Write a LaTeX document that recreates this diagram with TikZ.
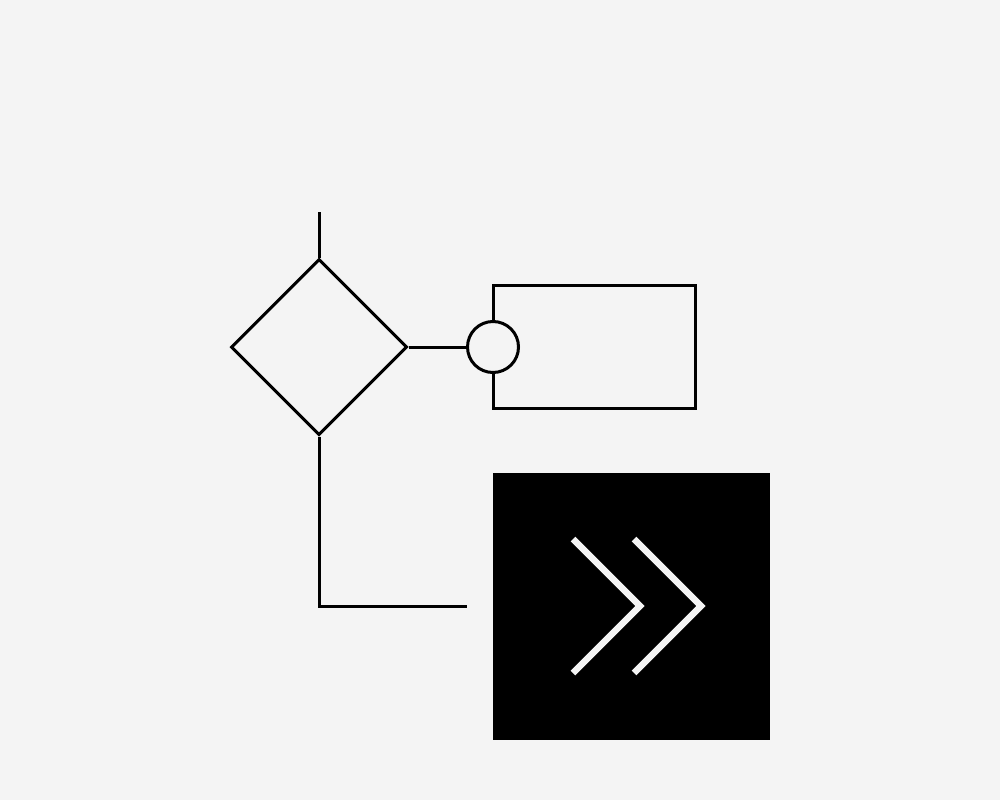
\documentclass[tikz,border=0pt]{standalone}
\usetikzlibrary{shapes.geometric}
\definecolor{bg}{HTML}{F4F4F4}
\begin{document}
\begin{tikzpicture}[x=1pt,y=-1pt,
  ln/.style={line width=3pt, draw=black},
  chev/.style={line width=6.5pt, draw=bg, miter limit=10}]
\useasboundingbox[fill=bg] (0,0) rectangle (1000,800);
\coordinate (top) at (319,212);
\node[ln, shape=diamond, inner sep=0pt, minimum width=176pt, minimum height=176pt, anchor=center] (dia) at (319,347) {};
\draw[ln] (top) -- (dia.north);
\node[ln, rectangle, minimum width=202pt, minimum height=123pt, inner sep=0pt] (rect) at (594,346.5) {};
\node[ln, circle, fill=bg, minimum size=51pt, inner sep=0pt] (circ) at (493,347) {};
\draw[ln] (dia.east) -- (circ.west);
\coordinate (end) at (467,606);
\draw[ln] (dia.south) |- (end);
\node[fill=black, minimum width=277pt, minimum height=267pt, inner sep=0pt] (sq) at (631.5,606.5) {};
\coordinate (c1a) at (573,539);
\coordinate (c1b) at (640,606);
\coordinate (c1c) at (573,673);
\coordinate (c2a) at (634,539);
\coordinate (c2b) at (701,606);
\coordinate (c2c) at (634,673);
\draw[chev] (c1a) -- (c1b) -- (c1c);
\draw[chev] (c2a) -- (c2b) -- (c2c);
\end{tikzpicture}
\end{document}
